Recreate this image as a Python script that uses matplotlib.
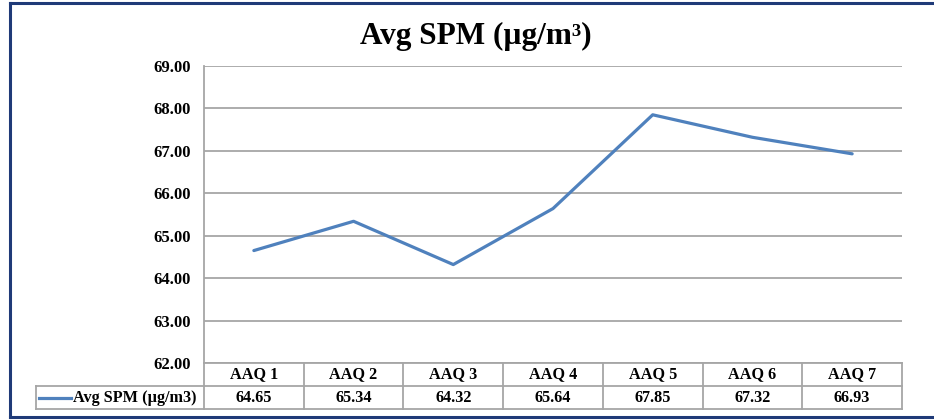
import matplotlib.pyplot as plt
from matplotlib.lines import Line2D
from matplotlib.transforms import blended_transform_factory

sites = ['AAQ 1', 'AAQ 2', 'AAQ 3', 'AAQ 4', 'AAQ 5', 'AAQ 6', 'AAQ 7']
spm = [64.65, 65.34, 64.32, 65.64, 67.85, 67.32, 66.93]
yticks = [62, 63, 64, 65, 66, 67, 68, 69]
series_name = 'Avg SPM (\u00b5g/m3)'
title = 'Avg SPM (\u00b5g/m\u00b3)'

plt.rcParams['font.family'] = ['Liberation Serif', 'DejaVu Serif']
plt.rcParams['font.weight'] = 'bold'

W, H = 934, 420
fig = plt.figure(figsize=(W / 100, H / 100), dpi=100)

def fx(px):
    return px / W

def fy(py):
    return 1 - py / H

# plot area in pixel coordinates of the reference
left, right, top, bottom = 204, 902, 66, 363
ax = fig.add_axes([fx(left), fy(bottom), fx(right) - fx(left), fy(top) - fy(bottom)])

line_col = '#4F81BD'
grid_col = '#A6A6A6'
xs = [i + 0.5 for i in range(len(sites))]
ax.plot(xs, spm, color=line_col, lw=2.3, solid_capstyle='round', zorder=3)

ax.set_xlim(0, len(sites))
ax.set_ylim(62, 69)
ax.set_yticks(yticks)
ax.set_yticklabels(['%.2f' % v for v in yticks], fontsize=12, fontweight='bold')
ax.tick_params(axis='y', length=0, pad=9.5)
ax.set_xticks([])
ax.grid(axis='y', color=grid_col, lw=1.3)
ax.set_axisbelow(True)
for s in ['top', 'right', 'bottom']:
    ax.spines[s].set_visible(False)
ax.spines['left'].set_color(grid_col)
ax.spines['left'].set_linewidth(1.3)

# data table below the plot
tr = blended_transform_factory(ax.transData, fig.transFigure)
y_top, y_mid, y_bot = fy(363), fy(386), fy(409)
x_leg = (36 - left) / ((right - left) / len(sites))
tab_col = '#A6A6A6'
tab_fs = 11.7

def hline(x0, x1, y):
    fig.add_artist(Line2D([x0, x1], [y, y], transform=tr, color=tab_col, lw=1.3))

def vline(x, y0, y1):
    fig.add_artist(Line2D([x, x], [y0, y1], transform=tr, color=tab_col, lw=1.3))

hline(0, len(sites), y_top)
hline(x_leg, len(sites), y_mid)
hline(x_leg, len(sites), y_bot)
for i in range(len(sites) + 1):
    vline(i, y_top, y_bot)
vline(x_leg, y_mid, y_bot)

for i, (name, val) in enumerate(zip(sites, spm)):
    fig.text(i + 0.5, (y_top + y_mid) / 2, name, transform=tr, ha='center', va='center',
             fontsize=tab_fs, fontweight='bold')
    fig.text(i + 0.5, (y_mid + y_bot) / 2, '%.2f' % val, transform=tr, ha='center', va='center',
             fontsize=tab_fs, fontweight='bold')

# legend key inside the row label cell
fig.add_artist(Line2D([fx(39), fx(71)], [fy(397.5), fy(397.5)], color=line_col, lw=2.3))
fig.text(fx(73), (y_mid + y_bot) / 2, series_name, ha='left', va='center',
         fontsize=tab_fs, fontweight='bold')

fig.text(fx(476), fy(36), title, ha='center', va='center', fontsize=22.5, fontweight='bold')

# dark chart frame
frame_col = '#1F3A78'
fig.add_artist(Line2D([fx(9.5), fx(9.5)], [fy(3), fy(417)], color=frame_col, lw=2.2))
fig.add_artist(Line2D([fx(9.5), 1], [fy(3), fy(3)], color=frame_col, lw=2.2))
fig.add_artist(Line2D([fx(9.5), 1], [fy(417), fy(417)], color=frame_col, lw=2.2))

fig.savefig('out.png', dpi=100)
